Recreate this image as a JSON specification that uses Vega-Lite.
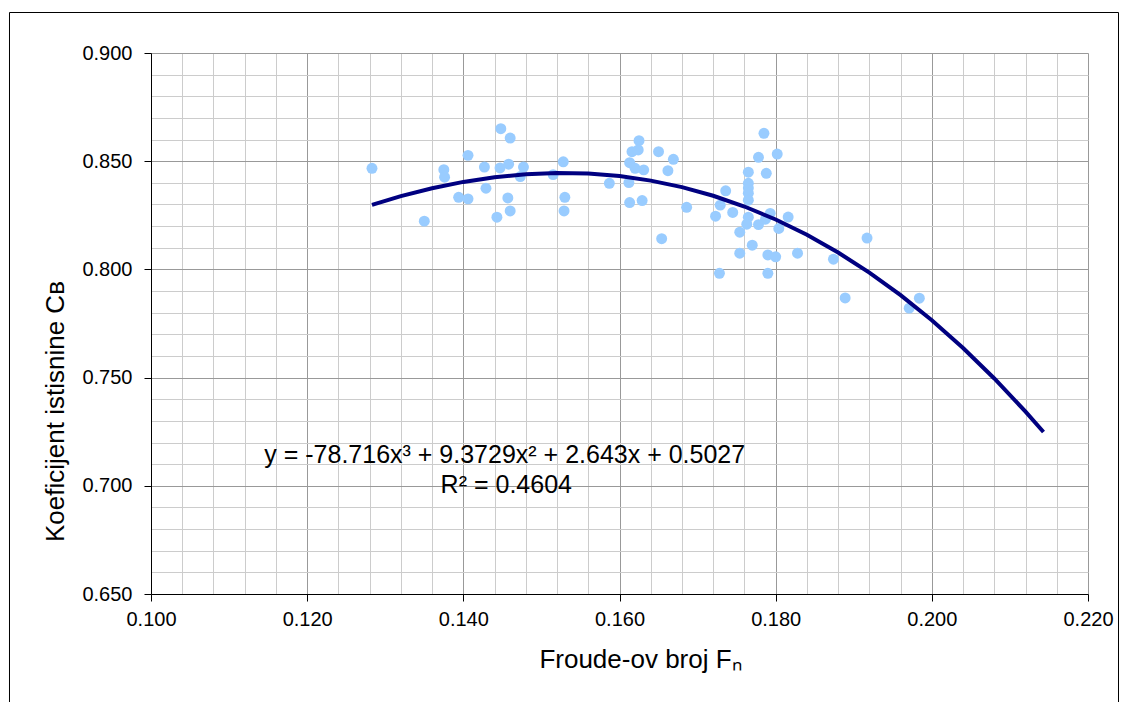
{
  "$schema": "https://vega.github.io/schema/vega-lite/v6.json",
  "width": 937,
  "height": 541,
  "autosize": {"type": "none"},
  "padding": {"left": 151, "top": 53, "right": 39, "bottom": 108},
  "background": "white",
  "config": {"view": {"stroke": null}, "font": "Liberation Sans"},
  "datasets": {
    "points": [
      {"Fn": 0.1283, "CB": 0.8467}, {"Fn": 0.1350, "CB": 0.8223}, {"Fn": 0.1375, "CB": 0.8461},
      {"Fn": 0.1376, "CB": 0.8426}, {"Fn": 0.1394, "CB": 0.8333}, {"Fn": 0.1406, "CB": 0.8527},
      {"Fn": 0.1406, "CB": 0.8326}, {"Fn": 0.1427, "CB": 0.8473}, {"Fn": 0.1429, "CB": 0.8375},
      {"Fn": 0.1443, "CB": 0.8241}, {"Fn": 0.1448, "CB": 0.8650}, {"Fn": 0.1447, "CB": 0.8469},
      {"Fn": 0.1458, "CB": 0.8486}, {"Fn": 0.1460, "CB": 0.8607}, {"Fn": 0.1457, "CB": 0.8330},
      {"Fn": 0.1460, "CB": 0.8270}, {"Fn": 0.1473, "CB": 0.8429}, {"Fn": 0.1477, "CB": 0.8473},
      {"Fn": 0.1515, "CB": 0.8438}, {"Fn": 0.1528, "CB": 0.8497}, {"Fn": 0.1530, "CB": 0.8333},
      {"Fn": 0.1529, "CB": 0.8270}, {"Fn": 0.1587, "CB": 0.8398}, {"Fn": 0.1612, "CB": 0.8401},
      {"Fn": 0.1613, "CB": 0.8309}, {"Fn": 0.1625, "CB": 0.8595}, {"Fn": 0.1616, "CB": 0.8544},
      {"Fn": 0.1624, "CB": 0.8552}, {"Fn": 0.1613, "CB": 0.8493}, {"Fn": 0.1620, "CB": 0.8467},
      {"Fn": 0.1631, "CB": 0.8460}, {"Fn": 0.1629, "CB": 0.8318}, {"Fn": 0.1650, "CB": 0.8544},
      {"Fn": 0.1669, "CB": 0.8509}, {"Fn": 0.1662, "CB": 0.8456}, {"Fn": 0.1654, "CB": 0.8142},
      {"Fn": 0.1686, "CB": 0.8287}, {"Fn": 0.1729, "CB": 0.8297}, {"Fn": 0.1736, "CB": 0.8363},
      {"Fn": 0.1723, "CB": 0.8246}, {"Fn": 0.1745, "CB": 0.8263}, {"Fn": 0.1728, "CB": 0.7982},
      {"Fn": 0.1765, "CB": 0.8449}, {"Fn": 0.1765, "CB": 0.8398}, {"Fn": 0.1765, "CB": 0.8376},
      {"Fn": 0.1765, "CB": 0.8352}, {"Fn": 0.1765, "CB": 0.8320}, {"Fn": 0.1765, "CB": 0.8241},
      {"Fn": 0.1763, "CB": 0.8209}, {"Fn": 0.1754, "CB": 0.8172}, {"Fn": 0.1754, "CB": 0.8075},
      {"Fn": 0.1770, "CB": 0.8112}, {"Fn": 0.1778, "CB": 0.8518}, {"Fn": 0.1785, "CB": 0.8629},
      {"Fn": 0.1788, "CB": 0.8444}, {"Fn": 0.1793, "CB": 0.8259}, {"Fn": 0.1787, "CB": 0.8232},
      {"Fn": 0.1778, "CB": 0.8207}, {"Fn": 0.1804, "CB": 0.8189}, {"Fn": 0.1802, "CB": 0.8533},
      {"Fn": 0.1816, "CB": 0.8242}, {"Fn": 0.1790, "CB": 0.8067}, {"Fn": 0.1800, "CB": 0.8058},
      {"Fn": 0.1790, "CB": 0.7982}, {"Fn": 0.1828, "CB": 0.8075}, {"Fn": 0.1874, "CB": 0.8047},
      {"Fn": 0.1889, "CB": 0.7868}, {"Fn": 0.1917, "CB": 0.8145}, {"Fn": 0.1984, "CB": 0.7867},
      {"Fn": 0.1971, "CB": 0.7821}
    ],
    "trend": [
      {"Fn": 0.1283, "CB": 0.82984}, {"Fn": 0.132, "CB": 0.83385}, {"Fn": 0.136, "CB": 0.83750},
      {"Fn": 0.140, "CB": 0.84043}, {"Fn": 0.144, "CB": 0.84260}, {"Fn": 0.148, "CB": 0.84399},
      {"Fn": 0.152, "CB": 0.84455}, {"Fn": 0.156, "CB": 0.84427}, {"Fn": 0.160, "CB": 0.84311},
      {"Fn": 0.164, "CB": 0.84103}, {"Fn": 0.168, "CB": 0.83802}, {"Fn": 0.172, "CB": 0.83404},
      {"Fn": 0.176, "CB": 0.82906}, {"Fn": 0.180, "CB": 0.82305}, {"Fn": 0.184, "CB": 0.81598},
      {"Fn": 0.188, "CB": 0.80782}, {"Fn": 0.192, "CB": 0.79854}, {"Fn": 0.196, "CB": 0.78811},
      {"Fn": 0.200, "CB": 0.77649}, {"Fn": 0.204, "CB": 0.76367}, {"Fn": 0.208, "CB": 0.74960},
      {"Fn": 0.212, "CB": 0.73426}, {"Fn": 0.2143, "CB": 0.72485}
    ]
  },
  "layer": [
    {
      "data": {"values": [{}]},
      "mark": {"type": "rect", "fill": null, "stroke": "#000000", "strokeWidth": 1, "clip": false},
      "encoding": {
        "x": {"datum": 0.081878, "type": "quantitative"},
        "x2": {"datum": 0.223907},
        "y": {"datum": 0.918715, "type": "quantitative"},
        "y2": {"datum": 0.5955}
      }
    },
    {
      "data": {"name": "points"},
      "mark": {"type": "circle", "size": 120, "color": "#99CCFF", "opacity": 1},
      "encoding": {
        "x": {
          "field": "Fn", "type": "quantitative",
          "scale": {"domain": [0.1, 0.22], "nice": false, "zero": false},
          "axis": {
            "values": [0.1,0.104,0.108,0.112,0.116,0.12,0.124,0.128,0.132,0.136,0.14,0.144,0.148,0.152,0.156,0.16,0.164,0.168,0.172,0.176,0.18,0.184,0.188,0.192,0.196,0.2,0.204,0.208,0.212,0.216,0.22],
            "tickCount": 100,
            "labelExpr": "abs(datum.value*50-round(datum.value*50))<0.001 ? format(datum.value,'.3f') : ''",
            "grid": true,
            "gridColor": {"condition": {"test": "abs(datum.value*50-round(datum.value*50))<0.001", "value": "#999999"}, "value": "#cccccc"},
            "tickOpacity": {"condition": {"test": "abs(datum.value*50-round(datum.value*50))<0.001", "value": 1}, "value": 0},
            "tickSize": 7, "tickColor": "black", "domainColor": "black",
            "labelFontSize": 20, "labelColor": "black", "labelPadding": 8,
            "labelOverlap": false, "labelFlush": false, "labelBound": false,
            "title": "Froude-ov broj Fₙ", "titleFontSize": 26, "titleFontWeight": "normal", "titleColor": "black",
            "titleBaseline": "alphabetic", "titleX": 489, "titleY": 73
          }
        },
        "y": {
          "field": "CB", "type": "quantitative",
          "scale": {"domain": [0.65, 0.9], "nice": false, "zero": false},
          "axis": {
            "values": [0.65,0.66,0.67,0.68,0.69,0.7,0.71,0.72,0.73,0.74,0.75,0.76,0.77,0.78,0.79,0.8,0.81,0.82,0.83,0.84,0.85,0.86,0.87,0.88,0.89,0.9],
            "tickCount": 100,
            "labelExpr": "abs(datum.value*20-round(datum.value*20))<0.001 ? format(datum.value,'.3f') : ''",
            "grid": true,
            "gridColor": {"condition": {"test": "abs(datum.value*20-round(datum.value*20))<0.001", "value": "#999999"}, "value": "#cccccc"},
            "tickOpacity": {"condition": {"test": "abs(datum.value*20-round(datum.value*20))<0.001", "value": 1}, "value": 0},
            "tickSize": 7, "tickColor": "black", "domainColor": "black",
            "labelFontSize": 20, "labelColor": "black", "labelPadding": 12,
            "labelOverlap": false, "labelBound": false,
            "title": "Koeficijent istisnine Cʙ", "titleFontSize": 26, "titleFontWeight": "normal", "titleColor": "black",
            "titleBaseline": "alphabetic", "titleX": -88, "titleY": 358
          }
        }
      }
    },
    {
      "data": {"name": "trend"},
      "mark": {"type": "line", "color": "#000080", "strokeWidth": 4},
      "encoding": {
        "x": {"field": "Fn", "type": "quantitative"},
        "y": {"field": "CB", "type": "quantitative"}
      }
    },
    {
      "data": {"values": [{}]},
      "mark": {"type": "text", "fontSize": 25, "font": "Liberation Sans", "color": "black", "align": "center", "baseline": "middle"},
      "encoding": {
        "x": {"datum": 0.1453, "type": "quantitative"},
        "y": {"datum": 0.7143, "type": "quantitative"},
        "text": {"value": "y = -78.716x³ + 9.3729x² + 2.643x + 0.5027"}
      }
    },
    {
      "data": {"values": [{}]},
      "mark": {"type": "text", "fontSize": 25, "font": "Liberation Sans", "color": "black", "align": "center", "baseline": "middle"},
      "encoding": {
        "x": {"datum": 0.1455, "type": "quantitative"},
        "y": {"datum": 0.7005, "type": "quantitative"},
        "text": {"value": "R² = 0.4604"}
      }
    }
  ]
}
